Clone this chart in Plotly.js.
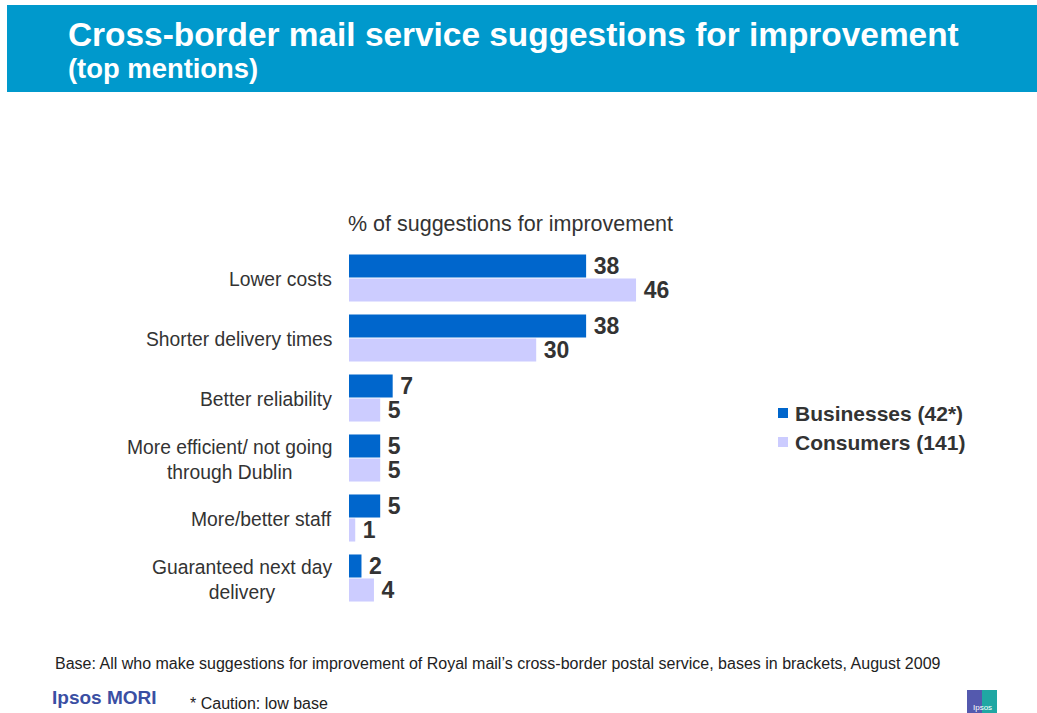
<!DOCTYPE html>
<html>
<head>
<meta charset="utf-8">
<script src="https://cdn.plot.ly/plotly-3.0.1.min.js"></script>
<style>
  html, body { margin: 0; padding: 0; background: #ffffff; }
  #chart { width: 1037px; height: 713px; }
</style>
</head>
<body>
<div id="chart"></div>
<script>
// Suggestions for improving the cross-border mail service (% of suggestions)
const categories = [
  "Lower costs",
  "Shorter delivery times",
  "Better reliability",
  "More efficient/ not going<br>through Dublin",
  "More/better staff",
  "Guaranteed next day<br>delivery"
];
const businesses = [38, 38, 7, 5, 5, 2];
const consumers = [46, 30, 5, 5, 1, 4];
const seriesNames = ["Businesses (42*)", "Consumers (141)"];
const seriesColors = ["#0066CC", "#CCCCFF"];

const W = 1037, H = 713;
const px = v => v / W;          // horizontal pixel -> paper
const py = v => 1 - v / H;      // vertical pixel (from top) -> paper

const FONT = "Liberation Sans, Arial, Helvetica, sans-serif";
const TEXT = "#333333";

function barTrace(name, values, color) {
  return {
    type: "bar",
    orientation: "h",
    name: name,
    y: categories,
    x: values,
    marker: { color: color, line: { width: 0 } },
    text: values.map(String),
    texttemplate: "\u2009%{text}",
    textposition: "outside",
    constraintext: "none",
    cliponaxis: false,
    textfont: { family: FONT, size: 23, color: TEXT, weight: "bold" },
    hoverinfo: "skip"
  };
}

const data = [
  barTrace(seriesNames[0], businesses, seriesColors[0]),
  barTrace(seriesNames[1], consumers, seriesColors[1])
];

const shapes = [
  // header band
  { type: "rect", xref: "paper", yref: "paper", x0: px(7), x1: 1, y0: py(92), y1: py(5),
    fillcolor: "#0099CC", line: { width: 0 }, layer: "below" },
  // legend keys
  { type: "rect", xref: "paper", yref: "paper", x0: px(778), x1: px(788), y0: py(418), y1: py(408),
    fillcolor: seriesColors[0], line: { width: 0 } },
  { type: "rect", xref: "paper", yref: "paper", x0: px(778), x1: px(788), y0: py(447), y1: py(437),
    fillcolor: seriesColors[1], line: { width: 0 } },
  // Ipsos badge
  { type: "rect", xref: "paper", yref: "paper", x0: px(967), x1: px(982), y0: py(713), y1: py(690),
    fillcolor: "#5459AE", line: { width: 0 } },
  { type: "rect", xref: "paper", yref: "paper", x0: px(982), x1: px(997), y0: py(713), y1: py(690),
    fillcolor: "#1FA7A3", line: { width: 0 } }
];

function note(text, x, y, size, opts) {
  return Object.assign({
    text: text, xref: "paper", yref: "paper", x: px(x), y: py(y),
    xanchor: "left", yanchor: "middle", showarrow: false,
    font: { family: FONT, size: size, color: TEXT }
  }, opts || {});
}

// category labels: right-edged beside the bars, multi-line labels centred
const categoryLabels = categories.map(c => ({
  text: c, xref: "paper", yref: "y", x: px(334), y: c, yshift: c.includes("<br>") ? -2 : -1,
  xanchor: "right", yanchor: "middle", align: "center", showarrow: false,
  font: { family: FONT, size: 19.3, color: TEXT }
}));

const annotations = categoryLabels.concat([
  note("Cross-border mail service suggestions for improvement", 66, 34, 33.4,
       { font: { family: FONT, size: 33.4, color: "#ffffff", weight: "bold" } }),
  note("(top mentions)", 66, 68, 27.4,
       { font: { family: FONT, size: 27.4, color: "#ffffff", weight: "bold" } }),
  note("% of suggestions for improvement", 346, 224, 21.5),
  note(seriesNames[0], 793, 413, 21, { font: { family: FONT, size: 21, color: TEXT, weight: "bold" } }),
  note(seriesNames[1], 793, 442, 21, { font: { family: FONT, size: 21, color: TEXT, weight: "bold" } }),
  note("Base: All who make suggestions for improvement of Royal mail\u2019s cross-border postal service, bases in brackets, August 2009",
       53, 663, 16, { font: { family: FONT, size: 16, color: "#222222" } }),
  note("Ipsos MORI", 50, 697, 19, { font: { family: FONT, size: 19, color: "#3A4FA3", weight: "bold" } }),
  note("* Caution: low base", 188, 703, 16, { font: { family: FONT, size: 16, color: "#222222" } }),
  note("Ipsos", 982, 707, 8, { xanchor: "center", font: { family: FONT, size: 8, color: "#ffffff" } })
]);

const layout = {
  width: W,
  height: H,
  margin: { l: 0, r: 0, t: 0, b: 0, pad: 0 },
  paper_bgcolor: "#ffffff",
  plot_bgcolor: "#ffffff",
  showlegend: false,
  barmode: "group",
  bargap: 0.2,
  bargroupgap: 0.04,
  font: { family: FONT, color: TEXT },
  xaxis: {
    domain: [px(349), px(661)],
    range: [0, 50],
    showgrid: false, zeroline: false, showline: false,
    showticklabels: false, ticks: "", fixedrange: true
  },
  yaxis: {
    domain: [py(608), py(248)],
    type: "category",
    categoryarray: categories,
    autorange: "reversed",
    showgrid: false, zeroline: false, showline: false,
    ticks: "", showticklabels: false,
    fixedrange: true
  },
  shapes: shapes,
  annotations: annotations
};

Plotly.newPlot("chart", data, layout, { displayModeBar: false, staticPlot: true });
</script>
</body>
</html>
